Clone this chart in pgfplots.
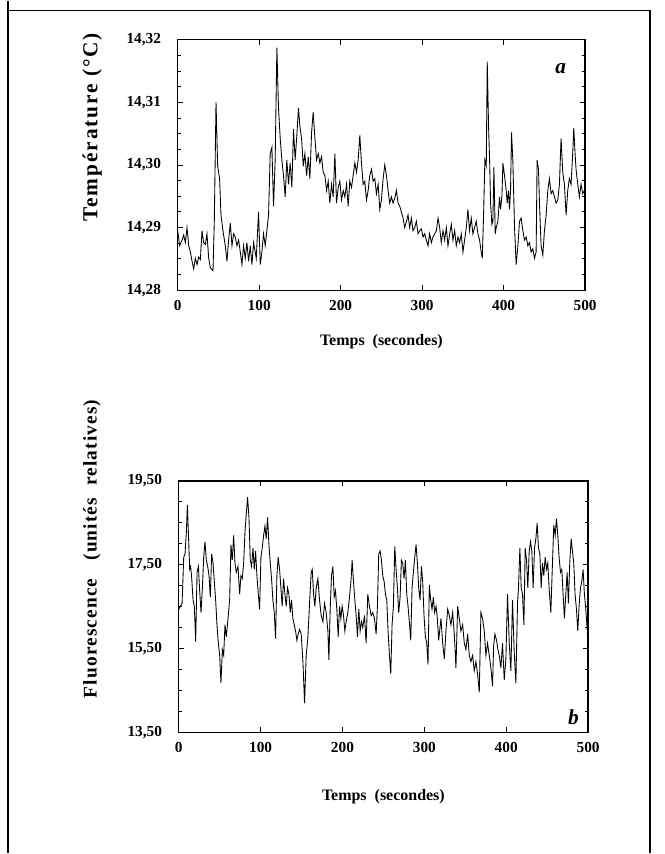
\documentclass[border=0pt]{standalone}
\usepackage{fontspec}
\setmainfont{Liberation Serif}
\newfontfamily\lblfontA[LetterSpace=9]{Liberation Serif}
\newfontfamily\lblfontB[LetterSpace=6]{Liberation Serif}
\usepackage{pgfplots}
\pgfplotsset{compat=1.18}
\begin{document}
\begin{tikzpicture}[x=0.75pt,y=0.75pt]
\path (0,0) rectangle (666,854);
\draw[line width=1pt] (8,854) -- (8,844) -- (651,844) -- (651,0);
\draw[line width=1pt] (8,844) -- (8,0);
\pgfplotsset{
  myaxis/.style={
    scale only axis, axis line style={line width=0.9pt},
    xmin=0, xmax=500, xtick={0,100,200,300,400,500},
    tick align=inside, major tick length=4pt, minor tick length=2.5pt,
    every tick/.style={line width=0.6pt},
    tick label style={font=\bfseries\fontsize{11.5}{13}\selectfont},
    yticklabel style={xshift=-9pt},
    xticklabel style={yshift=-4pt},
    /pgf/number format/assume math mode=true,
    scaled y ticks=false,
    yticklabel style={/pgf/number format/.cd, fixed, fixed zerofill, precision=2, use comma},
    clip=true,
  }
}
% ---------------- a ----------------
\begin{axis}[myaxis, at={(133.5pt,423pt)}, anchor=south west,
  width=306pt, height=188.25pt,
  ymin=14.28, ymax=14.32, ytick={14.28,14.29,14.30,14.31,14.32},
  minor y tick num=3,
  xlabel={Temps\ \ (secondes)},
  xlabel style={font=\bfseries\fontsize{12}{14}\selectfont, at={(axis description cs:0.5,0)}, anchor=center, yshift=-38.5pt},
  ylabel={Température (°C)},
  ylabel style={font=\lblfontA\bfseries\fontsize{16}{18}\selectfont, at={(axis description cs:-0.21,0.65)}, anchor=center},
]
\addplot[black, line width=0.65pt] coordinates {
(0,14.2895)(2.4,14.2871)(5.3,14.2880)(7.3,14.2888)(9.4,14.2876)(11.4,14.2900)(13.5,14.2871)(15.5,14.2861)(17.6,14.2846)(19.6,14.2834)(21.6,14.2851)(23.7,14.2841)(25.7,14.2853)(27.8,14.2849)(29.8,14.2895)(31.8,14.2876)(33.9,14.2873)(35.9,14.2890)(38.0,14.2851)(40.0,14.2836)(43.3,14.2831)(44.9,14.2910)(47.0,14.3100)(49.0,14.2998)(51.4,14.2978)(53.1,14.2920)(55.5,14.2895)(58.4,14.2871)(60.4,14.2846)(62.5,14.2880)(64.5,14.2907)(66.6,14.2871)(68.6,14.2890)(70.6,14.2885)(72.7,14.2871)(74.7,14.2880)(76.8,14.2861)(78.8,14.2841)(80.8,14.2871)(82.9,14.2851)(84.9,14.2876)(87.0,14.2846)(89.0,14.2871)(91.1,14.2841)(93.1,14.2876)(96.4,14.2851)(99.2,14.2925)(101.3,14.2841)(103.3,14.2861)(105.3,14.2890)(107.4,14.2871)(109.4,14.2895)(111.5,14.2920)(113.5,14.3018)(115.6,14.3028)(117.6,14.2934)(119.6,14.3008)(121.7,14.3187)(123.7,14.3091)(125.8,14.3042)(127.8,14.3008)(129.8,14.2983)(131.9,14.2949)(133.9,14.3008)(136.0,14.2969)(138.0,14.3003)(140.1,14.2964)(142.1,14.3057)(144.1,14.3008)(146.2,14.3047)(148.2,14.3091)
(150.0,14.3061)(152.0,14.3042)(154.1,14.2998)(156.1,14.3018)(158.2,14.2983)(160.2,14.3013)(162.2,14.2978)(164.3,14.3052)(166.3,14.3084)(168.4,14.3042)(170.4,14.3008)(172.5,14.3018)(174.5,14.3003)(176.5,14.3013)(178.6,14.2988)(180.6,14.2983)(182.7,14.2959)(184.7,14.2974)(186.7,14.2939)(188.8,14.2969)(190.8,14.2949)(192.9,14.3018)(194.9,14.2939)(197.0,14.2964)(199.0,14.2974)(201.0,14.2944)(203.1,14.2959)(205.1,14.2949)(207.2,14.2969)(209.2,14.2934)(211.2,14.2974)(213.3,14.2964)(215.3,14.2983)(217.4,14.3003)(219.4,14.2988)(221.5,14.3008)(223.5,14.3047)(225.5,14.3003)(227.6,14.2969)(229.6,14.2974)(231.7,14.2944)(233.7,14.2959)(235.7,14.2983)(237.8,14.2993)(239.8,14.2974)(241.9,14.2978)(243.9,14.2954)(246.0,14.2969)(248.0,14.2929)(250.0,14.2944)(252.1,14.2978)(254.1,14.3000)(256.2,14.2983)(258.2,14.2959)(260.2,14.2939)(262.3,14.2949)(264.3,14.2939)(266.4,14.2947)(268.4,14.2959)(270.5,14.2939)(272.5,14.2934)(274.5,14.2925)(276.6,14.2915)(278.6,14.2900)(280.7,14.2910)(282.7,14.2920)(284.7,14.2900)(286.8,14.2915)(288.8,14.2895)(290.9,14.2900)(292.9,14.2910)(295.0,14.2890)(297.0,14.2895)(299.0,14.2898)(301.1,14.2885)(303.1,14.2890)(305.2,14.2880)(307.2,14.2871)(309.2,14.2890)(311.3,14.2876)(313.3,14.2885)(315.4,14.2890)(317.4,14.2895)(319.5,14.2915)
(321.5,14.2900)(323.5,14.2876)(325.6,14.2895)(327.6,14.2880)(329.7,14.2900)(331.7,14.2871)(333.8,14.2890)(335.8,14.2905)(337.8,14.2880)(339.9,14.2895)(341.9,14.2871)(344.0,14.2885)(346.0,14.2876)(348.0,14.2890)(350.1,14.2861)(352.1,14.2880)(354.2,14.2900)(356.2,14.2929)(358.2,14.2895)(360.3,14.2915)(362.3,14.2890)(364.4,14.2900)(366.4,14.2910)(368.5,14.2890)(370.5,14.2880)(372.5,14.2861)(373.8,14.2851)(375.4,14.2920)(377.0,14.3008)(378.7,14.2998)(379.9,14.3165)(381.5,14.3062)(382.8,14.3008)(384.0,14.2939)(385.6,14.2905)(386.8,14.2910)(388.1,14.2996)(389.7,14.2890)(390.9,14.2900)(393.0,14.2910)(395.0,14.2949)(396.2,14.2929)(397.9,14.2949)(399.1,14.3003)(401.1,14.2983)(403.2,14.2959)(404.4,14.2939)(406.0,14.2959)(407.2,14.2929)(408.5,14.2959)(409.7,14.3052)(411.3,14.3008)(413.4,14.2900)(415.4,14.2841)(417.5,14.2871)(419.5,14.2910)(421.5,14.2915)(423.6,14.2895)(425.6,14.2880)(427.7,14.2885)(429.7,14.2871)(431.7,14.2876)(433.8,14.2861)(435.8,14.2866)(437.9,14.2851)(439.9,14.2861)(441.1,14.3008)(442.8,14.2993)(444.0,14.2939)(446.0,14.2871)(448.1,14.2856)(450.1,14.2895)(452.2,14.2920)(454.2,14.2959)(456.2,14.2978)(458.3,14.2954)(460.3,14.2959)(462.4,14.2949)(464.4,14.2939)(466.5,14.2944)(468.5,14.2969)(470.5,14.3042)(472.6,14.2988)(474.6,14.2969)(476.7,14.2920)(478.7,14.2959)(480.7,14.2978)(482.8,14.2969)(484.8,14.3018)(486.1,14.3059)(487.7,14.3018)(488.9,14.2993)(491.0,14.2969)(493.0,14.2949)(495.0,14.2969)(497.1,14.2954)(499.1,14.2959)
};
\node[font=\bfseries\itshape\fontsize{16}{18}\selectfont] at (axis cs:470,14.3153) {a};
\end{axis}
% ---------------- b ----------------
\begin{axis}[myaxis, at={(134.25pt,90.75pt)}, anchor=south west,
  width=307.5pt, height=189pt,
  ymin=13.5, ymax=19.5, ytick={13.5,15.5,17.5,19.5},
  minor y tick num=3,
  xlabel={Temps\ \ (secondes)},
  xlabel style={font=\bfseries\fontsize{12}{14}\selectfont, at={(axis description cs:0.5,0)}, anchor=center, yshift=-48pt},
  ylabel={Fluorescence\ \ \ (unités\ \ relatives)},
  ylabel style={font=\lblfontB\bfseries\fontsize{14.5}{16}\selectfont, at={(axis description cs:-0.212,0.73)}, anchor=center},
]
\addplot[black, line width=0.65pt] coordinates {
(0,16.44)(2.0,16.51)(4.1,16.58)(6.1,17.68)(7.7,17.76)(9.3,18.27)(10.6,18.93)(11.8,18.27)(13.4,17.39)(14.6,17.46)(15.9,17.17)(17.5,16.66)(19.1,16.51)(20.7,15.67)(22.4,17.32)(24.0,17.46)(25.6,16.88)(27.2,16.36)(28.9,16.95)(30.5,17.68)(32.1,18.05)(33.7,17.61)(35.4,17.46)(37.0,17.24)(38.6,16.73)(40.2,17.76)(41.9,17.54)(43.5,17.10)(45.1,16.66)(46.7,16.07)(48.4,15.63)(50.0,15.34)(51.6,14.68)(53.3,15.48)(54.9,15.34)(56.5,16.07)(58.1,15.78)(60.2,16.22)(62.2,16.66)(63.8,17.98)(65.4,17.61)(67.1,18.20)(68.7,17.54)(70.3,17.32)(72.4,17.46)(74.4,16.80)(76.0,17.24)(77.6,17.17)(79.3,17.54)(80.9,18.27)(82.5,18.71)(84.1,19.11)(85.8,18.63)(87.4,17.61)(89.0,17.46)(90.7,17.90)(92.3,17.39)(93.9,17.83)(95.5,17.24)(97.2,16.80)(98.8,16.44)(100.4,17.68)(102.0,17.90)(103.7,18.20)(105.3,18.42)(106.9,18.12)(108.5,18.63)(110.2,17.98)(111.8,17.54)(113.4,17.17)(115.0,16.66)(116.7,16.36)(118.3,15.74)(119.9,17.24)(121.5,17.68)(123.2,17.39)(124.8,16.95)(126.4,16.51)(128.0,17.17)(129.7,16.80)(131.3,16.51)(132.9,16.95)(134.6,16.80)(136.2,16.36)(137.8,16.66)(139.4,16.22)(141.1,16.07)(142.7,15.92)(144.3,15.70)(145.9,15.85)
(147.6,15.96)(149.6,15.85)(151.7,15.19)(153.7,14.20)(155.7,15.34)(157.8,15.78)(159.8,16.58)(161.8,17.32)(163.1,17.39)(164.7,16.80)(166.3,16.51)(167.9,16.95)(170.0,17.17)(172.0,16.66)(174.0,16.29)(176.1,16.14)(178.1,16.58)(180.1,16.36)(182.2,15.92)(183.4,15.23)(185.0,16.44)(186.6,17.24)(188.3,17.46)(189.9,16.73)(191.5,16.88)(193.1,16.44)(194.8,15.78)(196.4,16.51)(198.0,16.22)(199.6,16.51)(201.3,16.29)(202.9,15.92)(204.5,16.14)(206.5,16.36)(208.6,16.73)(210.6,17.17)(211.8,17.61)(213.5,17.10)(215.1,16.66)(216.7,16.29)(218.3,15.78)(220.0,16.44)(221.6,15.92)(223.2,16.14)(224.8,16.00)(226.9,16.29)(228.9,15.63)(230.9,16.80)(233.0,16.51)(235.0,16.29)(237.0,16.36)(239.1,16.22)(241.1,15.85)(242.7,16.51)(244.3,17.76)(246.0,17.83)(247.6,17.61)(249.2,17.24)(250.9,17.10)(252.5,16.80)(254.1,16.66)(255.7,15.92)(257.4,15.34)(259.0,14.90)(260.6,16.07)(262.2,16.51)(263.9,17.94)(265.5,17.39)(267.1,16.95)(268.7,16.36)(270.4,16.73)(272.0,17.61)(273.6,17.54)(275.2,17.17)(276.9,17.61)(278.5,16.80)(280.1,16.51)(281.7,16.14)(283.4,15.70)(285.0,16.95)(286.6,17.32)(288.3,17.68)(289.9,17.98)(291.5,17.54)(293.1,16.95)(294.8,16.66)(296.4,17.46)(298.0,17.10)(299.6,16.29)(301.3,15.78)(302.9,15.63)(304.5,15.12)(306.1,17.02)(307.8,16.66)(309.4,16.44)(311.0,16.73)(312.6,16.36)(314.3,16.51)(315.9,16.22)(317.5,15.70)
(320.3,16.22)(322.4,15.63)(324.4,15.26)(326.4,15.92)(328.5,16.44)(330.5,16.29)(332.5,16.07)(334.6,16.36)(336.6,15.85)(338.6,15.04)(340.7,16.51)(342.7,16.22)(344.7,15.92)(346.8,16.07)(348.8,15.63)(350.8,15.48)(352.9,15.85)(354.9,15.34)(356.9,15.19)(359.0,15.34)(361.0,14.97)(363.0,15.19)(365.0,14.90)(367.1,14.46)(369.1,16.36)(371.1,16.22)(373.2,15.92)(375.2,15.34)(377.2,15.63)(379.3,15.34)(381.3,15.04)(383.3,14.60)(384.6,15.56)(386.2,15.85)(388.2,15.70)(389.8,15.48)(391.5,15.34)(393.5,15.04)(395.5,15.63)(397.6,14.75)(399.6,15.26)(401.6,16.80)(403.7,15.63)(405.7,14.97)(407.7,16.66)(409.8,15.41)(411.8,14.68)(413.8,16.58)(415.0,16.95)(416.7,17.90)(418.3,16.95)(419.9,16.80)(421.6,16.07)(423.2,17.90)(424.8,17.61)(426.4,16.95)(428.1,17.83)(429.7,18.05)(431.3,17.83)(432.9,16.95)(434.6,17.90)(436.2,18.12)(437.8,18.49)(439.4,17.90)(441.1,17.76)(442.7,16.95)(444.3,17.54)(445.9,17.24)(447.6,17.68)(449.2,17.39)(450.8,17.54)(452.4,16.95)(454.5,16.36)(456.5,17.54)(458.1,18.45)(459.8,18.20)(461.4,18.60)(463.0,18.20)(464.6,17.68)(466.3,17.32)(467.9,17.39)(469.5,16.80)(471.1,16.22)(472.8,16.80)(474.4,17.32)(476.0,16.58)(477.6,17.54)(479.3,18.12)(480.9,17.83)(482.5,17.54)(484.1,16.80)(485.8,16.44)(487.4,15.92)(489.0,16.51)(490.7,16.95)(492.3,17.10)(493.9,17.39)(495.5,16.80)(497.2,16.44)(498.8,16.00)(500.0,15.41)
};
\node[font=\bfseries\itshape\fontsize{16}{18}\selectfont] at (axis cs:482,13.86) {b};
\end{axis}
\end{tikzpicture}
\end{document}
